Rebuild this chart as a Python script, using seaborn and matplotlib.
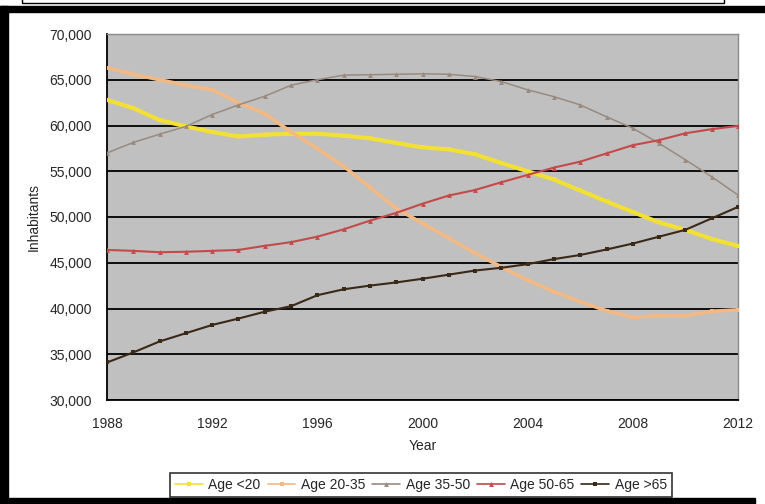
import pandas as pd
import matplotlib.pyplot as plt
import seaborn as sns
from matplotlib.patches import Rectangle
from matplotlib.ticker import FuncFormatter

years = list(range(1988, 2013))

age_u20 = [62800, 61900, 60600, 59900, 59300, 58800, 59000, 59100, 59100, 58900,
           58600, 58100, 57600, 57400, 56850, 55900, 55000, 54100, 52900, 51700,
           50550, 49400, 48600, 47600, 46850]
age_20_35 = [66300, 65600, 65000, 64400, 63900, 62500, 61300, 59300, 57500, 55550,
             53250, 50950, 49300, 47700, 46050, 44550, 43100, 41850, 40750, 39750,
             39050, 39200, 39200, 39700, 39850]
age_35_50 = [57000, 58150, 59050, 59900, 61200, 62250, 63200, 64400, 65000, 65500,
             65550, 65600, 65650, 65600, 65350, 64800, 63900, 63150, 62250, 60950,
             59700, 58050, 56250, 54400, 52400]
age_50_65 = [46400, 46300, 46150, 46200, 46300, 46400, 46850, 47250, 47850, 48650,
             49600, 50450, 51450, 52350, 52950, 53800, 54600, 55400, 56050, 56950,
             57850, 58400, 59150, 59600, 59950]
age_o65 = [34100, 35200, 36400, 37300, 38200, 38900, 39650, 40250, 41450, 42100,
           42500, 42850, 43250, 43700, 44150, 44450, 44850, 45400, 45850, 46450,
           47100, 47850, 48600, 49850, 51100]

labels = ["Age <20", "Age 20-35", "Age 35-50", "Age 50-65", "Age >65"]
colors = ["#F2E034", "#F2B985", "#9A8A7E", "#C44A4A", "#3A2818"]
widths = [3.0, 2.6, 1.1, 1.5, 1.5]
marks = ["s", "s", "^", "^", "s"]

df = pd.DataFrame({"Year": years, labels[0]: age_u20, labels[1]: age_20_35,
                   labels[2]: age_35_50, labels[3]: age_50_65, labels[4]: age_o65})
long = df.melt(id_vars="Year", var_name="Group", value_name="Inhabitants")

sns.set_style("white")
plt.rcParams['font.family'] = ['Liberation Sans', 'DejaVu Sans']

fig = plt.figure(figsize=(7.65, 5.04), dpi=100)
ax = fig.add_axes([107/765, 104/504, 631/765, 366/504])
ax.set_facecolor("#C0C0C0")

for lab, col, lw, mk in zip(labels, colors, widths, marks):
    sns.lineplot(data=long[long["Group"] == lab], x="Year", y="Inhabitants",
                 color=col, lw=lw, marker=mk, markersize=3.5, markeredgewidth=0,
                 label=lab, ax=ax, zorder=3)

ax.set_xlim(1988, 2012)
ax.set_ylim(30000, 70000)
ax.set_xticks(range(1988, 2013, 4))
ax.set_yticks(range(30000, 70001, 5000))
ax.yaxis.set_major_formatter(FuncFormatter(lambda v, p: f"{int(v):,}"))
ax.yaxis.grid(True, color="black", lw=1.3, zorder=1)
ax.set_axisbelow(True)
ax.tick_params(axis="both", direction="out", length=4, width=1, color="black",
               labelsize=10)
ax.tick_params(axis="y", pad=7)
ax.tick_params(axis="x", pad=8)
for s in ["left", "bottom"]:
    ax.spines[s].set_color("black")
    ax.spines[s].set_linewidth(1.3)
for s in ["top", "right"]:
    ax.spines[s].set_color("#8A8A8A")
    ax.spines[s].set_linewidth(1)
ax.set_xlabel("Year", fontsize=10, labelpad=6)
ax.set_ylabel("Inhabitants", fontsize=10, labelpad=6)

ax.get_legend().remove()
h, l = ax.get_legend_handles_labels()
leg = fig.legend(h, l, ncol=5, loc="center", bbox_to_anchor=(421/765, 19/504),
                 fontsize=10, frameon=True, fancybox=False, edgecolor="black",
                 handlelength=2.0, handletextpad=0.4, columnspacing=0.5,
                 borderpad=0.35, borderaxespad=0)
leg.get_frame().set_linewidth(1.2)
for line in leg.get_lines():
    line.set_linewidth(1.2)

# outer frame bits
fig.add_artist(Rectangle((0, 492/504), 1, 6/504, color="black", transform=fig.transFigure))
fig.add_artist(Rectangle((0, 0), 8/765, 498/504, color="black", transform=fig.transFigure))
fig.add_artist(Rectangle((0, 0), 755/765, 6/504, color="black", transform=fig.transFigure))
fig.add_artist(Rectangle((22/765, 501/504), 702/765, 10/504, fill=False, lw=1,
                         edgecolor="black", transform=fig.transFigure))

fig.savefig("out.png", dpi=100)
